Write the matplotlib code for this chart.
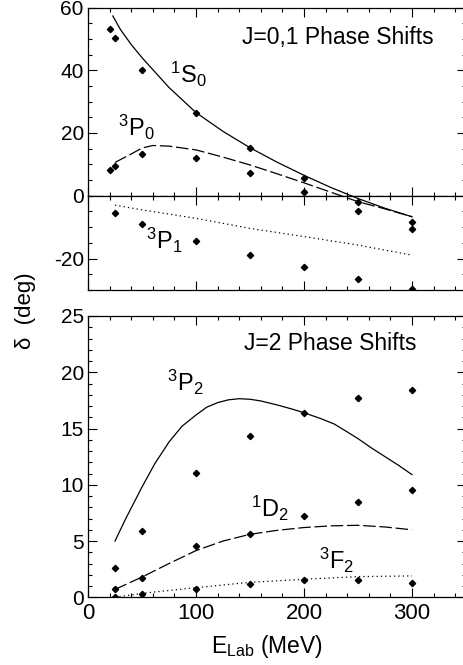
from matplotlib import pyplot as plt
from matplotlib.ticker import MultipleLocator

plt.rcParams['font.family'] = ['Liberation Sans', 'DejaVu Sans']
plt.rcParams['mathtext.fontset'] = 'custom'
plt.rcParams['mathtext.rm'] = 'Liberation Sans'
plt.rcParams['mathtext.it'] = 'Liberation Sans:italic'
plt.rcParams['axes.unicode_minus'] = False

# J=0,1 data points (E_lab in MeV, delta in deg)
E_1S0_PTS = [20, 25, 50, 100, 150, 200, 250, 300]
D_1S0_PTS = [53.1, 50.4, 40.2, 26.3, 15.1, 5.7, -2.1, -8.4]
E_3P0_PTS = [20, 25, 50, 100, 150, 200, 250, 300]
D_3P0_PTS = [8.2, 9.6, 13.2, 12.1, 7.1, 1.1, -4.8, -10.5]
E_3P1_PTS = [25, 50, 100, 150, 200, 250, 300]
D_3P1_PTS = [-5.6, -9.1, -14.4, -18.8, -22.6, -26.5, -29.7]

# J=0,1 model curves
E_1S0_LINE = [23, 30, 40, 50, 60, 75, 100, 125, 150, 175, 200, 225, 250, 275, 300]
D_1S0_LINE = [57.3, 53.0, 48.2, 44.0, 40.2, 34.5, 26.5, 20.5, 15.3, 10.7, 6.5, 2.6, -0.9, -4.0, -6.7]
E_3P0_LINE = [25, 40, 50, 60, 75, 100, 125, 150, 175, 200, 225, 250, 275, 300]
D_3P0_LINE = [10.6, 13.3, 15.2, 16.0, 15.8, 14.6, 12.3, 9.8, 7.0, 4.1, 1.1, -1.9, -4.2, -6.7]
E_3P1_LINE = [25, 50, 100, 150, 200, 250, 300]
D_3P1_LINE = [-3.0, -4.5, -7.2, -10.4, -13.0, -15.7, -18.9]

# J=2 data points
E_J2_PTS = [25, 50, 100, 150, 200, 250, 300]
D_3P2_PTS = [2.6, 5.9, 11.05, 14.3, 16.4, 17.7, 18.4]
D_1D2_PTS = [0.7, 1.75, 4.6, 5.6, 7.2, 8.45, 9.55]
D_3F2_PTS = [0.06, 0.3, 0.75, 1.2, 1.5, 1.5, 1.3]

# J=2 model curves
E_3P2_LINE = [25, 35, 50, 62, 75, 87, 100, 110, 120, 130, 140, 150, 160, 175, 190,
              200, 215, 228, 240, 250, 262, 275, 288, 300]
D_3P2_LINE = [5.0, 7.0, 9.8, 11.9, 13.8, 15.2, 16.2, 16.9, 17.3, 17.55, 17.65, 17.6, 17.45,
              17.1, 16.7, 16.4, 15.9, 15.4, 14.7, 14.1, 13.3, 12.5, 11.7, 10.9]
E_1D2_LINE = [25, 50, 75, 100, 125, 150, 175, 200, 225, 250, 275, 300]
D_1D2_LINE = [0.7, 1.8, 3.0, 4.15, 5.0, 5.6, 5.95, 6.2, 6.35, 6.4, 6.25, 6.0]
E_3F2_LINE = [25, 50, 100, 150, 200, 250, 300]
D_3F2_LINE = [0.0, 0.35, 0.86, 1.33, 1.6, 1.84, 1.9]

W, H = 464, 665
LEFT = 88 / W
WIDTH = 378 / W
DASH = (0, (10, 3))
DOT = (0, (1, 2.5))
MK = dict(ls='none', marker='D', ms=3.2, color='black')


def style(ax, ylo, yhi, major, minor):
    ax.set_xlim(0, 350)
    ax.set_ylim(ylo, yhi)
    ax.xaxis.set_major_locator(MultipleLocator(100))
    ax.xaxis.set_minor_locator(MultipleLocator(20))
    ax.yaxis.set_major_locator(MultipleLocator(major))
    ax.yaxis.set_minor_locator(MultipleLocator(minor))
    ax.tick_params(which='both', direction='in', top=True, right=True, labelsize=15, width=0.8)
    ax.tick_params(which='major', length=6.5, pad=3)
    ax.tick_params(which='minor', length=3)
    for s in ax.spines.values():
        s.set_linewidth(0.9)


def draw_j01(ax):
    ax.plot(E_1S0_LINE, D_1S0_LINE, color='black', lw=0.9)
    ax.plot(E_3P0_LINE, D_3P0_LINE, color='black', lw=0.9, ls=DASH)
    ax.plot(E_3P1_LINE, D_3P1_LINE, color='black', lw=0.9, ls=DOT)
    ax.plot(E_1S0_PTS, D_1S0_PTS, **MK)
    ax.plot(E_3P0_PTS, D_3P0_PTS, **MK)
    ax.plot(E_3P1_PTS, D_3P1_PTS, **MK)


fig = plt.figure(figsize=(W / 100, H / 100), dpi=100)

# top panel split in two so the zero line carries crossing ticks
ax_up = fig.add_axes([LEFT, 1 - 195.7 / H, WIDTH, 188.2 / H])
ax_lo = fig.add_axes([LEFT, 1 - 290 / H, WIDTH, 94.3 / H])
draw_j01(ax_up)
draw_j01(ax_lo)
style(ax_up, 0, 60, 20, 5)
style(ax_lo, -30, 0, 20, 5)
ax_lo.set_yticks([-20])
ax_up.tick_params(labelbottom=False)
ax_lo.tick_params(labelbottom=False)

ax_up.text(231, 50.3, 'J=0,1 Phase Shifts', fontsize=16.5, ha='center', va='center')
ax_up.text(93, 38.5, '$^{1}$S$_{0}$', fontsize=17, ha='center', va='center')
ax_up.text(45, 21.6, '$^{3}$P$_{0}$', fontsize=17, ha='center', va='center')
ax_lo.text(71, -14.1, '$^{3}$P$_{1}$', fontsize=17, ha='center', va='center')

# bottom panel
ax2 = fig.add_axes([LEFT, 1 - 597.3 / H, WIDTH, 281.3 / H])
ax2.plot(E_3P2_LINE, D_3P2_LINE, color='black', lw=0.9)
ax2.plot(E_1D2_LINE, D_1D2_LINE, color='black', lw=0.9, ls=DASH)
ax2.plot(E_3F2_LINE, D_3F2_LINE, color='black', lw=0.9, ls=DOT)
ax2.plot(E_J2_PTS, D_3P2_PTS, **MK)
ax2.plot(E_J2_PTS, D_1D2_PTS, **MK)
ax2.plot(E_J2_PTS, D_3F2_PTS, **MK)
style(ax2, 0, 25, 5, 1)
ax2.tick_params(axis='x', labelsize=16, pad=4)

ax2.text(224, 22.6, 'J=2 Phase Shifts', fontsize=16.5, ha='center', va='center')
ax2.text(90, 19.05, '$^{3}$P$_{2}$', fontsize=17, ha='center', va='center')
ax2.text(168, 7.94, '$^{1}$D$_{2}$', fontsize=17, ha='center', va='center')
ax2.text(230, 3.3, '$^{3}$F$_{2}$', fontsize=17, ha='center', va='center')

fig.text(267 / W, 1 - 646 / H, r'E$_{\mathrm{Lab}}$ (MeV)', fontsize=16.5, ha='center', va='center')
fig.text(26 / W, 1 - 311 / H, 'δ  (deg)', fontsize=16, rotation=90, ha='center', va='center')

fig.savefig('out.png', dpi=100)
